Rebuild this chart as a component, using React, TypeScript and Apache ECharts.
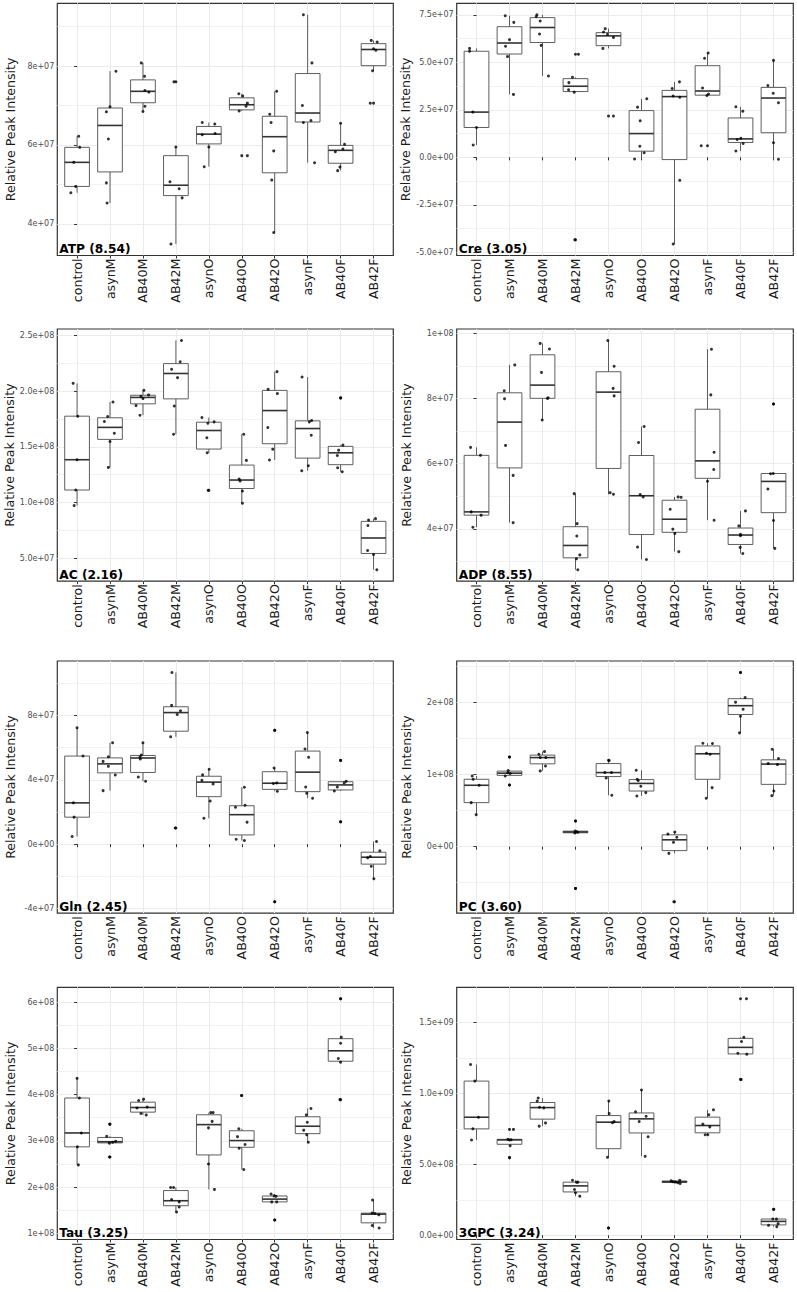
import React, { useEffect, useRef } from 'react';
import * as echarts from 'echarts';

const groups = ['control', 'asynM', 'AB40M', 'AB42M', 'asynO', 'AB40O', 'AB42O', 'asynF', 'AB40F', 'AB42F'];

// ATP, values in units of 1e7
const atpValues = [
  [6.22, 5.94, 5.56, 4.95, 4.79],
  [7.87, 6.97, 6.84, 6.15, 5.04, 4.53],
  [8.08, 7.74, 7.38, 7.34, 6.98, 6.85],
  [7.60, 5.95, 5.07, 4.89, 4.66, 3.49],
  [6.57, 6.53, 6.29, 6.26, 5.95, 5.45],
  [7.30, 7.24, 7.06, 6.98, 6.86, 5.73],
  [7.36, 6.78, 6.57, 5.85, 5.11, 3.78],
  [9.30, 8.08, 7.00, 6.62, 6.57, 5.55],
  [6.55, 6.02, 5.90, 5.83, 5.44, 5.35],
  [8.65, 8.61, 8.44, 8.40, 7.88, 7.06],
];
const atpJitter = [
  [0.05, 0.08, -0.10, -0.04, -0.19],
  [0.18, 0.0, -0.11, -0.05, -0.11, -0.09],
  [-0.05, 0.05, 0.06, 0.18, 0.06, 0.0],
  [-0.06, 0.0, -0.18, 0.10, 0.19, -0.15],
  [-0.20, 0.18, 0.19, -0.20, 0.0, -0.14],
  [-0.09, 0.03, 0.17, 0.13, -0.08, 0.17],
  [0.06, -0.15, -0.11, -0.03, -0.09, -0.03],
  [-0.13, 0.13, -0.16, 0.10, -0.13, 0.21],
  [0.0, 0.12, 0.07, -0.16, -0.02, -0.09],
  [-0.07, 0.11, 0.0, 0.07, -0.03, -0.10],
];
const atpTicks = [4, 6, 8];
const atpTickLabels = ['4e+07', '6e+07', '8e+07'];

// Cre, units of 1e7
const creValues = [
  [5.73, 5.58, 2.38, 1.57, 0.65],
  [7.45, 7.10, 6.19, 5.84, 5.30, 3.31],
  [7.50, 7.41, 7.17, 6.49, 5.89, 4.28],
  [5.42, 4.21, 3.93, 3.55, 3.43, -4.34],
  [6.77, 6.59, 6.47, 6.31, 5.73, 2.17],
  [3.08, 2.64, 1.92, 0.58, 0.24, -0.09],
  [3.97, 3.62, 3.23, 3.16, -1.21, -4.56],
  [5.49, 5.21, 3.65, 3.33, 3.25, 0.61],
  [2.66, 2.43, 1.00, 0.94, 0.73, 0.33],
  [5.10, 3.78, 3.37, 2.87, 0.77, -0.10],
];
const creJitter = [
  [-0.21, -0.21, -0.11, 0.0, -0.10],
  [-0.13, 0.13, 0.0, -0.12, -0.06, 0.12],
  [-0.17, -0.19, -0.07, -0.09, -0.04, 0.18],
  [0.09, -0.09, -0.20, -0.21, -0.04, -0.02],
  [-0.10, -0.15, -0.03, 0.15, -0.17, 0.15],
  [0.16, -0.12, -0.04, -0.05, 0.08, -0.21],
  [0.15, -0.07, -0.04, 0.16, 0.16, -0.04],
  [0.02, -0.09, -0.15, 0.03, -0.02, -0.19],
  [-0.14, 0.07, 0.01, -0.10, 0.08, -0.14],
  [0.0, -0.17, -0.01, 0.15, 0.0, 0.15],
];
const creTicks = [-5, -2.5, 0, 2.5, 5, 7.5];
const creTickLabels = ['-5.0e+07', '-2.5e+07', '0.0e+00', '2.5e+07', '5.0e+07', '7.5e+07'];

// AC, units of 1e8
const acValues = [
  [2.070, 1.775, 1.384, 1.112, 0.972],
  [1.903, 1.772, 1.727, 1.622, 1.548, 1.315],
  [2.007, 1.966, 1.954, 1.933, 1.870, 1.784],
  [2.455, 2.264, 2.196, 2.121, 1.867, 1.613],
  [1.763, 1.724, 1.712, 1.581, 1.446, 1.109],
  [1.613, 1.378, 1.210, 1.193, 1.103, 0.993],
  [2.175, 2.016, 1.978, 1.673, 1.479, 1.381],
  [2.127, 1.736, 1.724, 1.604, 1.330, 1.285],
  [1.939, 1.515, 1.470, 1.422, 1.312, 1.276],
  [0.855, 0.843, 0.793, 0.569, 0.533, 0.396],
];
const acJitter = [
  [-0.12, 0.02, 0.0, -0.04, -0.09],
  [0.09, -0.07, -0.17, 0.13, 0.0, -0.05],
  [0.03, 0.17, -0.06, 0.0, -0.21, -0.09],
  [0.17, 0.13, -0.13, 0.05, -0.05, -0.07],
  [-0.21, 0.16, -0.03, -0.06, -0.05, -0.02],
  [0.06, 0.14, -0.08, -0.05, 0.02, 0.02],
  [0.07, -0.20, 0.08, -0.21, -0.06, -0.16],
  [-0.17, 0.12, 0.05, 0.11, 0.02, -0.18],
  [0.0, 0.07, -0.06, -0.10, -0.09, 0.05],
  [0.06, -0.15, -0.17, -0.18, 0.0, 0.10],
];
const acTicks = [0.5, 1, 1.5, 2, 2.5];
const acTickLabels = ['5.0e+07', '1.0e+08', '1.5e+08', '2.0e+08', '2.5e+08'];

// ADP, units of 1e7
const adpValues = [
  [6.50, 6.255, 4.52, 4.42, 4.05],
  [9.03, 8.235, 7.99, 6.56, 5.64, 4.19],
  [9.69, 9.52, 8.80, 8.02, 8.00, 7.34],
  [5.08, 4.16, 3.78, 3.20, 3.08, 2.745],
  [9.78, 8.99, 8.31, 8.08, 5.11, 5.06],
  [7.14, 6.65, 5.05, 4.98, 3.44, 3.06],
  [4.98, 4.97, 4.60, 3.99, 3.86, 3.30],
  [9.51, 8.11, 6.35, 5.82, 5.46, 4.265],
  [4.55, 4.09, 3.83, 3.79, 3.43, 3.245],
  [7.83, 5.70, 5.69, 5.22, 4.255, 3.40],
];
const adpJitter = [
  [-0.18, 0.12, -0.16, 0.14, -0.11],
  [0.16, -0.16, -0.15, -0.12, 0.11, 0.11],
  [-0.07, 0.21, -0.03, 0.17, 0.15, -0.01],
  [-0.04, 0.05, 0.04, 0.13, 0.03, 0.07],
  [-0.02, 0.17, 0.14, 0.17, 0.05, 0.15],
  [0.08, -0.09, -0.04, 0.05, -0.12, 0.15],
  [0.11, 0.20, -0.13, -0.05, 0.01, 0.13],
  [0.12, 0.10, 0.20, 0.19, 0.0, 0.20],
  [0.15, -0.05, 0.0, 0.0, -0.01, 0.07],
  [0.0, -0.01, -0.09, -0.17, 0.0, 0.04],
];
const adpTicks = [4, 6, 8, 10];
const adpTickLabels = ['4e+07', '6e+07', '8e+07', '1e+08'];

// Gln, units of 1e7
const glnValues = [
  [7.24, 5.48, 2.57, 1.68, 0.48],
  [6.31, 5.44, 5.15, 4.84, 4.30, 3.33],
  [6.31, 5.55, 5.42, 5.30, 4.18, 3.91],
  [10.68, 8.63, 8.30, 8.07, 6.68, 1.01],
  [4.66, 4.31, 3.97, 3.75, 2.69, 1.61],
  [3.54, 2.42, 2.30, 1.37, 0.31, 0.23],
  [7.08, 4.74, 3.81, 3.77, 3.29, -3.58],
  [6.95, 5.92, 5.40, 3.56, 3.17, 2.86],
  [5.21, 3.91, 3.81, 3.56, 3.31, 1.39],
  [0.17, -0.41, -0.77, -0.85, -1.37, -2.15],
];
const glnJitter = [
  [0.0, 0.18, -0.11, -0.09, -0.15],
  [0.08, -0.05, -0.21, -0.05, 0.16, -0.21],
  [0.0, -0.05, -0.09, -0.08, -0.14, 0.08],
  [-0.12, -0.13, 0.14, 0.04, -0.16, -0.02],
  [0.01, -0.19, -0.21, 0.13, 0.04, -0.15],
  [0.08, 0.10, -0.19, 0.16, -0.17, 0.08],
  [0.0, -0.02, 0.06, -0.04, 0.08, 0.0],
  [-0.01, -0.08, 0.03, -0.06, -0.03, 0.15],
  [0.0, 0.17, 0.11, -0.10, -0.19, 0.0],
  [0.09, 0.19, -0.10, -0.18, -0.07, 0.01],
];
const glnTicks = [-4, 0, 4, 8];
const glnTickLabels = ['-4e+07', '0e+00', '4e+07', '8e+07'];

// PC, units of 1e7
const pcValues = [
  [9.81, 9.35, 8.52, 6.11, 4.44],
  [12.45, 10.56, 10.25, 10.15, 9.81, 8.56],
  [13.19, 12.82, 12.36, 12.36, 11.20, 10.51],
  [3.56, 2.18, 2.08, 2.00, 1.90, -5.79],
  [11.99, 11.95, 10.28, 10.28, 9.54, 7.13],
  [10.60, 9.35, 9.17, 8.38, 7.50, 7.04],
  [2.04, 1.76, 1.30, 0.60, -0.93, -7.64],
  [14.35, 14.31, 12.96, 12.82, 8.19, 6.71],
  [24.17, 20.69, 20.05, 19.07, 18.10, 15.79],
  [13.52, 12.22, 11.53, 11.39, 7.73, 7.08],
];
const pcJitter = [
  [-0.13, -0.10, 0.08, -0.16, -0.01],
  [0.0, -0.04, -0.05, 0.02, -0.13, 0.0],
  [0.06, -0.11, 0.10, -0.07, 0.09, -0.07],
  [0.0, -0.01, 0.03, 0.07, -0.02, 0.0],
  [0.0, 0.02, -0.11, 0.09, -0.07, 0.10],
  [-0.16, -0.13, -0.10, -0.02, 0.13, -0.14],
  [0.01, -0.20, 0.07, -0.03, -0.17, -0.02],
  [-0.14, 0.15, -0.03, 0.08, 0.14, -0.04],
  [0.0, 0.14, -0.15, 0.08, 0.0, -0.03],
  [-0.04, 0.15, -0.16, 0.12, 0.01, -0.05],
];
const pcTicks = [0, 10, 20];
const pcTickLabels = ['0e+00', '1e+08', '2e+08'];

// Tau, units of 1e8
const tauValues = [
  [4.35, 3.925, 3.17, 2.87, 2.48],
  [3.36, 3.10, 2.99, 2.97, 2.95, 2.65],
  [3.90, 3.87, 3.73, 3.71, 3.59, 3.56],
  [1.99, 1.99, 1.73, 1.68, 1.57, 1.46],
  [3.61, 3.61, 3.42, 3.28, 2.50, 1.95],
  [3.98, 3.26, 3.09, 2.92, 2.84, 2.38],
  [1.85, 1.81, 1.80, 1.68, 1.68, 1.29],
  [3.70, 3.56, 3.40, 3.23, 3.13, 2.97],
  [6.07, 5.24, 5.11, 4.78, 4.70, 3.89],
  [1.72, 1.44, 1.43, 1.40, 1.17, 1.115],
];
const tauJitter = [
  [0.0, 0.07, 0.13, 0.01, 0.04],
  [-0.01, -0.10, 0.17, 0.08, -0.02, -0.02],
  [0.02, -0.13, 0.13, -0.18, -0.06, 0.10],
  [-0.16, -0.07, -0.13, 0.10, 0.10, 0.02],
  [0.06, 0.13, 0.10, -0.01, -0.01, 0.17],
  [-0.01, -0.09, -0.13, 0.10, -0.08, 0.06],
  [-0.11, -0.02, 0.04, -0.09, 0.06, 0.0],
  [0.10, -0.04, -0.01, -0.12, -0.03, 0.02],
  [0.0, 0.02, 0.0, -0.07, 0.0, -0.02],
  [-0.03, -0.04, 0.04, 0.16, -0.04, 0.17],
];
const tauTicks = [1, 2, 3, 4, 5, 6];
const tauTickLabels = ['1e+08', '2e+08', '3e+08', '4e+08', '5e+08', '6e+08'];

// 3GPC, units of 1e8
const gpcValues = [
  [12.05, 10.88, 8.33, 7.51, 6.72],
  [7.47, 6.78, 6.74, 6.72, 6.32, 5.48],
  [9.69, 9.48, 9.03, 8.99, 7.93, 7.70],
  [3.88, 3.75, 3.74, 3.23, 3.00, 2.76],
  [9.48, 8.59, 8.02, 7.94, 5.50, 0.51],
  [10.25, 8.71, 8.40, 8.03, 6.95, 5.57],
  [3.88, 3.85, 3.78, 3.76, 3.71, 3.65],
  [8.85, 8.50, 7.84, 7.65, 7.09, 7.09],
  [16.69, 13.97, 13.67, 12.85, 12.78, 11.00],
  [1.83, 1.15, 1.14, 0.82, 0.70, 0.61],
];
const gpcJitter = [
  [-0.18, -0.05, 0.06, -0.11, -0.15],
  [0.12, -0.05, 0.05, 0.0, 0.02, 0.0],
  [-0.13, -0.16, -0.09, 0.04, 0.09, -0.10],
  [-0.09, 0.07, 0.03, -0.03, 0.0, 0.13],
  [0.01, 0.02, 0.17, 0.12, -0.03, 0.0],
  [0.0, -0.18, 0.14, -0.07, 0.20, 0.11],
  [0.16, -0.10, -0.05, 0.03, 0.10, 0.17],
  [0.18, 0.04, -0.14, 0.07, -0.07, 0.01],
  [0.18, 0.10, 0.03, -0.08, 0.19, 0.02],
  [0.01, -0.02, 0.09, 0.14, -0.15, 0.10],
];
const gpcTicks = [0, 5, 10, 15];
const gpcTickLabels = ['0.0e+00', '5.0e+08', '1.0e+09', '1.5e+09'];

const panels = [
  { title: 'ATP (8.54)', values: atpValues, jitter: atpJitter, ticks: atpTicks, tickLabels: atpTickLabels },
  { title: 'Cre (3.05)', values: creValues, jitter: creJitter, ticks: creTicks, tickLabels: creTickLabels },
  { title: 'AC (2.16)', values: acValues, jitter: acJitter, ticks: acTicks, tickLabels: acTickLabels },
  { title: 'ADP (8.55)', values: adpValues, jitter: adpJitter, ticks: adpTicks, tickLabels: adpTickLabels },
  { title: 'Gln (2.45)', values: glnValues, jitter: glnJitter, ticks: glnTicks, tickLabels: glnTickLabels },
  { title: 'PC (3.60)', values: pcValues, jitter: pcJitter, ticks: pcTicks, tickLabels: pcTickLabels },
  { title: 'Tau (3.25)', values: tauValues, jitter: tauJitter, ticks: tauTicks, tickLabels: tauTickLabels },
  { title: '3GPC (3.24)', values: gpcValues, jitter: gpcJitter, ticks: gpcTicks, tickLabels: gpcTickLabels },
];

const FONT = '"DejaVu Sans", sans-serif';
const colLeft = [57.3, 456.7];
const colWidth = [336, 336.6];
const rowTop = [3.3, 329, 661, 987.3];
const rowHeight = 252.2;
const nameGaps = [40.5, 44];

function quantile(sorted: number[], p: number) {
  const h = (sorted.length - 1) * p;
  const lo = Math.floor(h);
  const hi = Math.min(lo + 1, sorted.length - 1);
  return sorted[lo] + (h - lo) * (sorted[hi] - sorted[lo]);
}

function boxStats(vals: number[]) {
  const s = [...vals].sort((a, b) => a - b);
  const q1 = quantile(s, 0.25);
  const med = quantile(s, 0.5);
  const q3 = quantile(s, 0.75);
  const iqr = q3 - q1;
  const inside = s.filter((v) => v >= q1 - 1.5 * iqr && v <= q3 + 1.5 * iqr);
  const lo = inside[0];
  const hi = inside[inside.length - 1];
  const outliers = s.filter((v) => v < q1 - 1.5 * iqr || v > q3 + 1.5 * iqr);
  return { lo, q1, med, q3, hi, outliers };
}

function buildOption() {
  const grid: any[] = [];
  const xAxis: any[] = [];
  const yAxis: any[] = [];
  const series: any[] = [];
  const graphic: any[] = [];
  const catIdx = groups.map((_, i) => i);

  panels.forEach((p, i) => {
    const col = i % 2;
    const row = Math.floor(i / 2);
    const left = colLeft[col];
    const width = colWidth[col];
    const top = rowTop[row];
    const height = rowHeight;

    const all = p.values.flat();
    const dMin = Math.min(...all);
    const dMax = Math.max(...all);
    const pad = (dMax - dMin) * 0.05;
    const yMin = dMin - pad;
    const yMax = dMax + pad;
    const step = p.ticks[1] - p.ticks[0];
    const minors: number[] = [];
    for (let k = -1; k < p.ticks.length; k++) {
      const m = p.ticks[0] + step * (k + 0.5);
      if (m > yMin && m < yMax) minors.push(m);
    }

    grid.push({ left, top, width, height, show: true, borderColor: '#333333', borderWidth: 1.2, backgroundColor: 'transparent', containLabel: false });

    xAxis.push({
      gridIndex: i, type: 'value', min: -0.6, max: 9.6,
      axisLine: { show: false },
      axisTick: { show: true, customValues: catIdx, length: 3, lineStyle: { color: '#333333', width: 1 } },
      axisLabel: {
        customValues: catIdx, rotate: 90, margin: 3, fontSize: 12.6, color: '#1a1a1a', fontFamily: FONT,
        formatter: (v: number) => groups[Math.round(v)] ?? '',
      },
      splitLine: { show: true, lineStyle: { color: '#ebebeb', width: 1 } },
    });

    const ticks = p.ticks;
    const labels = p.tickLabels;
    yAxis.push({
      gridIndex: i, type: 'value', min: yMin, max: yMax, position: 'left',
      name: 'Relative Peak Intensity', nameLocation: 'middle', nameGap: nameGaps[col],
      nameTextStyle: { fontSize: 12.6, color: '#1a1a1a', fontFamily: FONT },
      axisLine: { show: false },
      axisTick: { show: true, customValues: ticks, length: 3, lineStyle: { color: '#333333', width: 1 } },
      axisLabel: {
        customValues: ticks, margin: 3, fontSize: 8, color: '#4d4d4d', fontFamily: FONT,
        formatter: (v: number) => {
          const k = ticks.findIndex((t) => Math.abs(t - v) < 1e-9);
          return k >= 0 ? labels[k] : '';
        },
      },
      splitLine: { show: true, lineStyle: { color: '#ebebeb', width: 1 } },
    });
    yAxis.push({
      gridIndex: i, type: 'value', min: yMin, max: yMax, position: 'right',
      axisLine: { show: false },
      axisTick: { show: false, customValues: minors },
      axisLabel: { show: false, customValues: minors },
      splitLine: { show: true, lineStyle: { color: '#efefef', width: 0.8 } },
    });

    const boxData: number[][] = [];
    const jitterData: number[][] = [];
    const outlierData: number[][] = [];
    p.values.forEach((vals, g) => {
      const s = boxStats(vals);
      boxData.push([g, s.lo, s.q1, s.med, s.q3, s.hi]);
      s.outliers.forEach((o) => outlierData.push([g, o]));
      vals.forEach((v, j) => jitterData.push([g + p.jitter[g][j], v]));
    });

    series.push({
      type: 'custom', xAxisIndex: i, yAxisIndex: 2 * i, z: 2, clip: false,
      encode: { x: 0, y: [1, 2, 3, 4, 5] },
      data: boxData,
      renderItem: (_params: any, api: any) => {
        const x = api.value(0);
        const pLo = api.coord([x, api.value(1)]);
        const pQ1 = api.coord([x, api.value(2)]);
        const pMd = api.coord([x, api.value(3)]);
        const pQ3 = api.coord([x, api.value(4)]);
        const pHi = api.coord([x, api.value(5)]);
        const half = api.size([0.375, 0])[0];
        const cx = pLo[0];
        const stroke = { stroke: '#4d4d4d', lineWidth: 0.9 };
        return {
          type: 'group',
          children: [
            { type: 'line', shape: { x1: cx, y1: pHi[1], x2: cx, y2: pQ3[1] }, style: stroke },
            { type: 'line', shape: { x1: cx, y1: pQ1[1], x2: cx, y2: pLo[1] }, style: stroke },
            { type: 'rect', shape: { x: cx - half, y: pQ3[1], width: half * 2, height: pQ1[1] - pQ3[1] }, style: { fill: '#ffffff', stroke: '#4d4d4d', lineWidth: 0.9 } },
            { type: 'line', shape: { x1: cx - half, y1: pMd[1], x2: cx + half, y2: pMd[1] }, style: { stroke: '#333333', lineWidth: 1.6 } },
          ],
        };
      },
    });
    series.push({
      type: 'scatter', xAxisIndex: i, yAxisIndex: 2 * i, z: 3,
      symbol: 'circle', symbolSize: 3, itemStyle: { color: '#000000' },
      data: outlierData,
    });
    series.push({
      type: 'scatter', xAxisIndex: i, yAxisIndex: 2 * i, z: 4,
      symbol: 'circle', symbolSize: 3, itemStyle: { color: '#000000' },
      data: jitterData,
    });

    graphic.push({
      type: 'text', z: 100, x: left + 2, y: top + height - 0.5,
      style: { text: p.title, font: `bold 12.2px ${FONT}`, fill: '#000000', verticalAlign: 'bottom', align: 'left' },
    });
  });

  return { animation: false, backgroundColor: '#ffffff', grid, xAxis, yAxis, series, graphic };
}

export default function App() {
  const ref = useRef<HTMLDivElement>(null);
  useEffect(() => {
    document.body.style.margin = '0';
    if (!ref.current) return;
    const chart = echarts.init(ref.current, undefined, { renderer: 'svg' });
    chart.setOption(buildOption() as any);
    return () => chart.dispose();
  }, []);
  return <div ref={ref} style={{ width: 797, height: 1292 }} />;
}
